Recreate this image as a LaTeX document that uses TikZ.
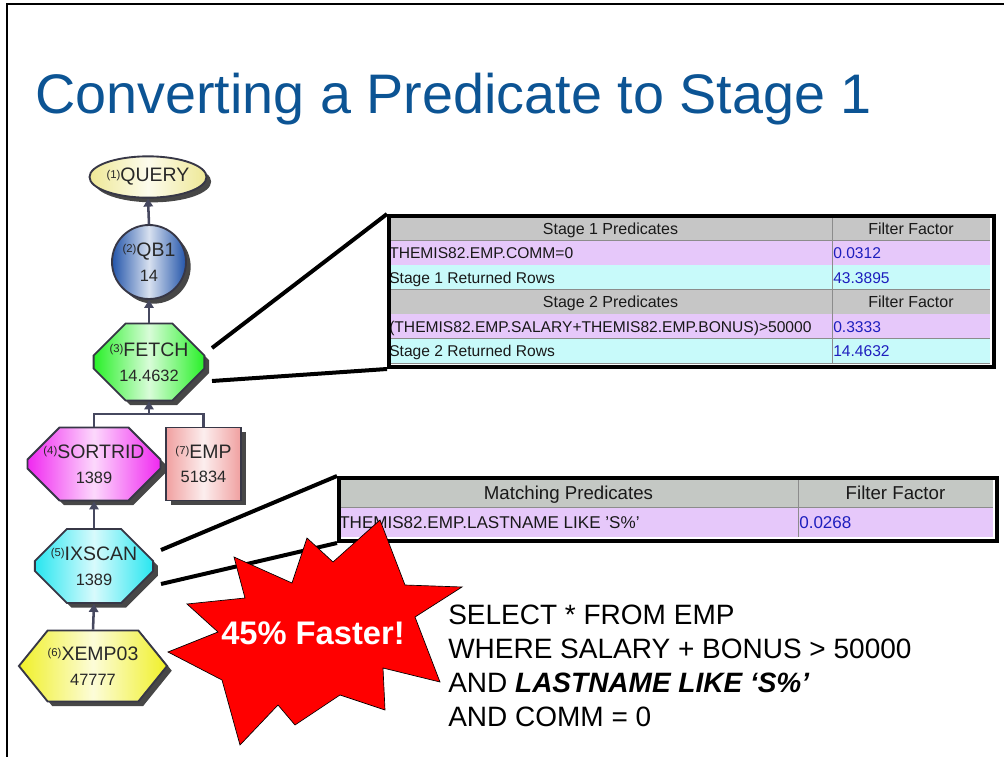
\documentclass[tikz,border=0pt]{standalone}
\usepackage{fontspec}
\setmainfont{Liberation Sans}
\usetikzlibrary{shapes.misc,shapes.symbols,shapes.geometric,arrows.meta,shadows}

\definecolor{titleblue}{RGB}{12,84,148}
\definecolor{nodeline}{RGB}{55,55,70}
\definecolor{nodetext}{RGB}{40,40,40}
\definecolor{flowgray}{RGB}{70,72,95}
\definecolor{headgray}{RGB}{198,198,198}
\definecolor{headgrayb}{RGB}{196,200,196}
\definecolor{rowpink}{RGB}{230,200,250}
\definecolor{rowcyan}{RGB}{200,250,250}
\definecolor{cellline}{RGB}{140,140,140}
\definecolor{numblue}{RGB}{30,30,190}
\definecolor{burstred}{RGB}{255,0,0}
\definecolor{cquery}{RGB}{238,232,150}
\definecolor{cqb}{RGB}{35,85,170}
\definecolor{cfetch}{RGB}{40,240,40}
\definecolor{csort}{RGB}{240,40,240}
\definecolor{cemp}{RGB}{240,160,160}
\definecolor{cix}{RGB}{40,230,240}
\definecolor{cxemp}{RGB}{240,240,40}

% operator number in front of a plan node name
\newcommand\opnum[1]{\raisebox{2.8pt}{\fontsize{8.5}{9}\selectfont(#1)}}
% second line of a plan node (cardinality)
\newcommand\oplow[1]{{\fontsize{12.3}{14}\selectfont #1}}
% straight apostrophe
\newcommand\sq{{\char"0027}}

\tikzset{
  opnode/.style={draw=nodeline, line width=1.4pt, inner sep=0pt, align=center,
    text=nodetext, font=\fontsize{14.6}{18.5}\selectfont,
    drop shadow={shadow xshift=3.5pt, shadow yshift=-3.5pt, opacity=1, fill=black!72}},
  octa/.style={chamfered rectangle, chamfered rectangle sep=12pt},
  tint/.style={left color=#1, right color=#1, middle color=#1!18!white},
  flow/.style={draw=flowgray, line width=1.9pt, -{Triangle[width=7pt,length=6pt]}},
  link/.style={draw=flowgray, line width=1.9pt},
  zoomline/.style={line width=3pt, black},
  tabframe/.style={draw=black, line width=3pt, inner sep=0pt, anchor=north west},
  cellrule/.style={draw=cellline, line width=0.6pt},
  headA/.style={font=\fontsize{12}{14}\selectfont, text=black!90, inner sep=0pt, anchor=base},
  cellA/.style={font=\fontsize{11.7}{14}\selectfont, text=black!90, inner sep=0pt, anchor=base west},
  numA/.style={cellA, text=numblue},
  headB/.style={font=\fontsize{14}{16}\selectfont, text=black!90, inner sep=0pt, anchor=base},
  cellB/.style={font=\fontsize{12.8}{15}\selectfont, text=black!90, inner sep=0pt, anchor=base west},
  numB/.style={cellB, text=numblue},
}

\begin{document}
\begin{tikzpicture}[x=0.75pt,y=-0.75pt]
\useasboundingbox (0,0) rectangle (1004,757);

% slide frame
\draw[line width=1.2pt] (7,757) -- (7,4) -- (1004,4);

% title
\node[anchor=base west, inner sep=0pt, text=titleblue, font=\fontsize{41.8}{48}\selectfont]
  (title) at (35,113) {Converting a Predicate to Stage 1};

% access plan graph
\node[opnode, ellipse, tint=cquery, minimum width=77pt, minimum height=31pt] (query) at (148,177) {\opnum{1}QUERY};
\node[opnode, circle, tint=cqb, minimum size=55.5pt] (qb1) at (149,262) {\opnum{2}QB1\\\oplow{14}};
\node[opnode, octa, tint=cfetch, minimum width=76.5pt, minimum height=57.75pt] (fetch) at (149,362) {\opnum{3}FETCH\\\oplow{14.4632}};
\node[opnode, octa, tint=csort, minimum width=88.5pt, minimum height=54.75pt] (sortrid) at (94,464) {\opnum{4}SORTRID\\\oplow{1389}};
\node[opnode, rectangle, tint=cemp, minimum width=56.25pt, minimum height=54.75pt] (emp) at (203.5,464) {\opnum{7}EMP\\\oplow{51834}};
\node[opnode, octa, tint=cix, minimum width=78.75pt, minimum height=55.5pt] (ixscan) at (94,566) {\opnum{5}IXSCAN\\\oplow{1389}};
\node[opnode, signal, signal to=east and west, signal pointer angle=102, tint=cxemp, minimum width=95pt, minimum height=53.25pt] (xemp) at (93,666) {\opnum{6}XEMP03\\\oplow{47777}};

\draw[flow] (qb1.north) -- (query.south);
\draw[flow] (fetch.north) -- (qb1.south);
\coordinate (bar) at (149,414);
\draw[link] (sortrid.north) |- (bar) -| (emp.north);
\draw[flow] (bar) -- (fetch.south);
\draw[flow] (ixscan.north) -- (sortrid.south);
\draw[flow] (xemp.north) -- (ixscan.south);

% stage 1 / stage 2 predicate table
\foreach \ya/\yb/\col in {216/240.5/headgray, 240.5/265/rowpink, 265/289.5/rowcyan,
                          289.5/314/headgray, 314/338.5/rowpink, 338.5/363/rowcyan}{
  \fill[\col] (389,\ya) rectangle (990,\yb);
  \draw[cellrule] (389,\yb) -- (990,\yb);
}
\draw[cellrule] (832,216) -- (832,363);
\node[headA] (s1head) at (610.5,234) {Stage 1 Predicates};
\node[headA] (s1ff) at (911,234) {Filter Factor};
\node[cellA] (s1pred) at (389,258.5) {THEMIS82.EMP.COMM=0};
\node[numA] (s1val) at (833,258.5) {0.0312};
\node[cellA] (s1rows) at (389,283) {Stage 1 Returned Rows};
\node[numA] (s1rval) at (833,283) {43.3895};
\node[headA] (s2head) at (610.5,307.5) {Stage 2 Predicates};
\node[headA] (s2ff) at (911,307.5) {Filter Factor};
\node[cellA] (s2pred) at (389,332) {(THEMIS82.EMP.SALARY+THEMIS82.EMP.BONUS)>50000};
\node[numA] (s2val) at (833,332) {0.3333};
\node[cellA] (s2rows) at (389,356.5) {Stage 2 Returned Rows};
\node[numA] (s2rval) at (833,356.5) {14.4632};
\node[tabframe, minimum width=453.75pt, minimum height=113.25pt] (stagetab) at (387,214) {};

% matching predicate table
\fill[headgrayb] (339,478) rectangle (993,507);
\fill[rowpink] (339,507) rectangle (993,537);
\draw[cellrule] (339,507) -- (993,507);
\draw[cellrule] (798,478) -- (798,537);
\node[headB] (mhead) at (568.5,499.5) {Matching Predicates};
\node[headB] (mff) at (895.5,499.5) {Filter Factor};
\node[cellB] (mpred) at (339,528.5) {THEMIS82.EMP.LASTNAME LIKE \sq S\%\sq};
\node[numB] (mval) at (799,528.5) {0.0268};
\node[tabframe, minimum width=493.5pt, minimum height=47.25pt] (matchtab) at (337,476) {};

% magnifier lines
\coordinate (fz1) at (212,348);
\coordinate (fz2) at (212,381);
\draw[zoomline] (fz1) -- (stagetab.north west);
\draw[zoomline] (fz2) -- (stagetab.south west);
\coordinate (iz1) at (161,550);
\coordinate (iz2) at (161,584);
\draw[zoomline] (iz1) -- (matchtab.north west);
\draw[zoomline] (iz2) -- (matchtab.south west);

% starburst
\draw[fill=burstred, draw=black, line width=0.5pt, line join=miter]
  (234,557) -- (292,583) -- (307,538) -- (333,562) -- (380,520) -- (405,585) --
  (462,587) -- (415,617) -- (440,682) -- (383,668) -- (385,710) -- (340,695) --
  (295,725) -- (278,705) -- (240,745) -- (222,680) -- (168,652) -- (218,632) --
  (187,604) -- (245,598) -- cycle;
\node[text=white, font=\bfseries\fontsize{24.5}{28}\selectfont, inner sep=0pt] (burst) at (313,633) {45\% Faster!};

% query text (anchored at the baseline of its last line)
\node[anchor=base west, inner sep=0pt, align=left, font=\fontsize{21}{25.5}\selectfont] (sql) at (448,726)
  {SELECT * FROM EMP\\WHERE SALARY + BONUS > 50000\\AND {\bfseries\itshape LASTNAME LIKE ‘S\%’}\\AND COMM = 0};
\end{tikzpicture}
\end{document}
